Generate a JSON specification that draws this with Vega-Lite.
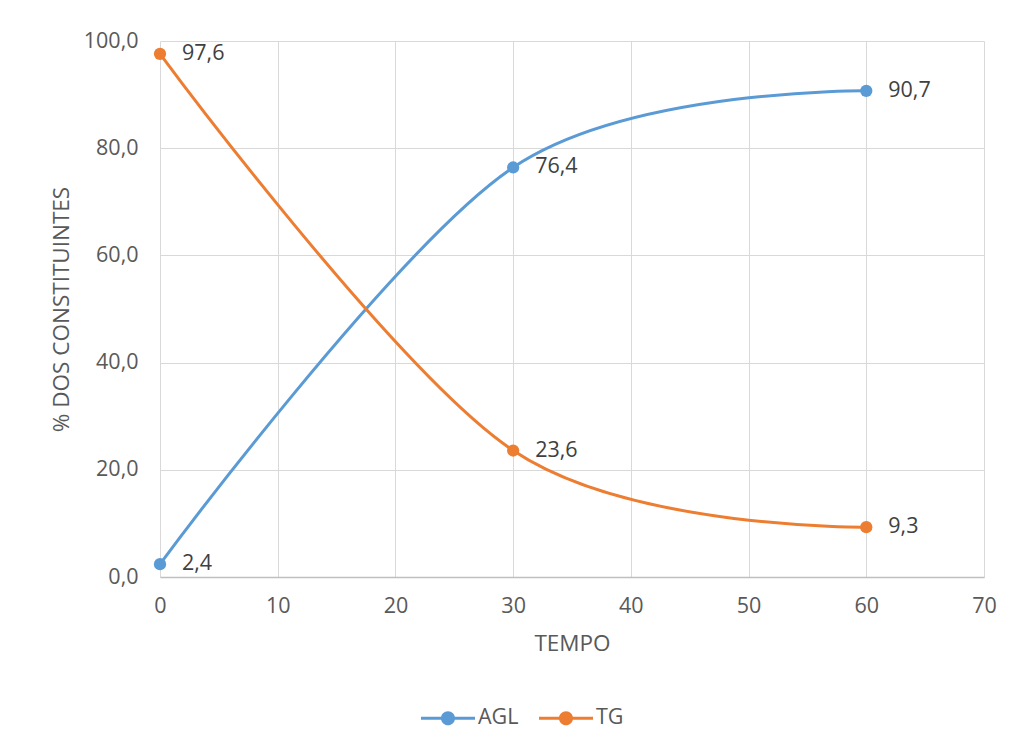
{
  "$schema": "https://vega.github.io/schema/vega-lite/v6.json",
  "autosize": "none",
  "width": 824,
  "height": 536,
  "padding": {"left": 160, "top": 41, "right": 31, "bottom": 172},
  "background": "white",
  "config": {
    "locale": {"number": {"decimal": ",", "thousands": ".", "grouping": [3], "currency": ["", " €"]}},
    "view": {"stroke": null},
    "font": "Open Sans",
    "axis": {
      "labelFont": "Open Sans",
      "titleFont": "Open Sans",
      "labelFontSize": 21.5,
      "titleFontSize": 22.5,
      "labelColor": "#595959",
      "titleColor": "#595959",
      "titleFontWeight": "normal",
      "gridColor": "#d9d9d9",
      "gridWidth": 1,
      "ticks": false,
      "labelFlush": false
    },
    "legend": {"labelFont": "Open Sans", "labelFontSize": 21.5, "labelColor": "#595959"}
  },
  "data": {
    "values": [
      {"tempo": 0, "serie": "AGL", "valor": 2.4},
      {"tempo": 30, "serie": "AGL", "valor": 76.4},
      {"tempo": 60, "serie": "AGL", "valor": 90.7},
      {"tempo": 0, "serie": "TG", "valor": 97.6},
      {"tempo": 30, "serie": "TG", "valor": 23.6},
      {"tempo": 60, "serie": "TG", "valor": 9.3}
    ]
  },
  "encoding": {
    "x": {
      "field": "tempo",
      "type": "quantitative",
      "scale": {"domain": [0, 70], "nice": false},
      "axis": {
        "title": "TEMPO",
        "values": [0, 10, 20, 30, 40, 50, 60, 70],
        "format": "d",
        "labelPadding": 18,
        "titlePadding": 16,
        "domainColor": "#bfbfbf",
        "domainWidth": 1.5
      }
    },
    "y": {
      "field": "valor",
      "type": "quantitative",
      "scale": {"domain": [0, 100], "nice": false},
      "axis": {
        "title": "% DOS CONSTITUINTES",
        "values": [0, 20, 40, 60, 80, 100],
        "format": ".1f",
        "labelPadding": 22,
        "titlePadding": 10,
        "domain": false
      }
    },
    "color": {
      "field": "serie",
      "type": "nominal",
      "scale": {"domain": ["AGL", "TG"], "range": ["#5B9BD5", "#ED7D31"]},
      "legend": {
        "title": null,
        "orient": "none",
        "direction": "horizontal",
        "legendX": 261,
        "legendY": 650,
        "symbolType": "M-1,-0.055H1V0.055H-1Z M0.26,0A0.26,0.26 0 1,1 -0.26,0A0.26,0.26 0 1,1 0.26,0Z",
        "symbolSize": 2916,
        "symbolStrokeWidth": 0,
        "symbolOpacity": 1,
        "labelOffset": 3,
        "columnPadding": 20
      }
    }
  },
  "layer": [
    {
      "mark": {"type": "line", "interpolate": "cardinal", "strokeWidth": 3}
    },
    {
      "mark": {"type": "circle", "size": 150, "opacity": 1}
    },
    {
      "mark": {"type": "text", "align": "left", "baseline": "middle", "dx": 22, "fontSize": 21.5, "font": "Open Sans", "color": "#404040"},
      "encoding": {
        "text": {"field": "valor", "type": "quantitative", "format": ".1f"},
        "color": {"value": "#404040"}
      }
    }
  ]
}
